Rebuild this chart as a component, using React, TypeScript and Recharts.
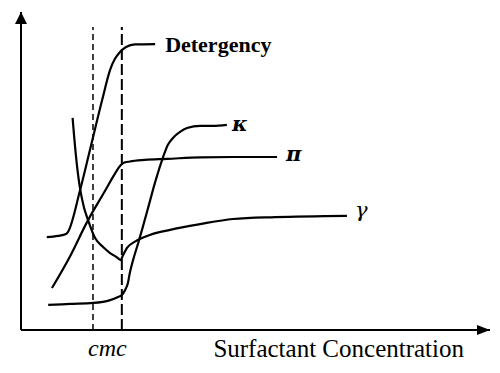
import {
  LineChart,
  Line,
  XAxis,
  YAxis,
  ReferenceLine,
  ReferenceDot,
  LabelList,
} from "recharts";

const SERIF = '"Liberation Serif", "Times New Roman", serif';
const GREEK = '"DejaVu Serif", "Liberation Serif", serif';

// concentration (arbitrary units) vs property value (arbitrary units)
const detergency: [number, number][] = [
  [5.5, 29.2], [7.9, 29.6], [9.6, 30.2], [10.0, 30.8], [12.6, 44.0],
  [14.7, 56.6], [17.3, 72.3], [19.0, 81.8], [20.0, 85.2], [21.1, 87.4],
  [22.4, 89.0], [24.3, 89.8], [28.6, 89.9],
];

const kappa: [number, number][] = [
  [5.8, 7.9], [10.5, 8.2], [15.4, 8.5], [19.0, 9.4], [20.7, 10.4],
  [21.5, 11.0], [22.2, 12.6], [22.8, 14.8], [23.2, 17.9], [23.9, 22.0],
  [25.0, 27.4], [25.8, 31.5], [27.1, 38.4], [28.6, 46.5], [30.3, 54.4],
  [31.3, 58.2], [32.4, 60.4], [33.9, 62.3], [35.4, 63.5], [38.2, 64.2],
  [40.9, 64.2], [43.9, 64.5],
];

const pi: [number, number][] = [
  [6.6, 13.2], [10.5, 23.3], [14.1, 34.0], [17.9, 43.7], [20.0, 49.1],
  [21.1, 51.6], [21.8, 52.5], [23.2, 53.0], [26.4, 53.5], [31.1, 53.8],
  [38.2, 54.3], [45.2, 54.4], [54.6, 54.4],
];

const gamma: [number, number][] = [
  [11.0, 66.7], [11.7, 55.0], [12.5, 45.3], [13.4, 38.7], [14.3, 34.6],
  [15.8, 28.9], [17.5, 26.1], [19.0, 24.2], [20.3, 23.0], [21.3, 22.0],
  [21.6, 23.0], [22.0, 24.2], [22.6, 25.8], [24.3, 27.8], [27.5, 29.9],
  [31.8, 31.5], [38.2, 33.3], [45.2, 34.9], [54.2, 35.5], [69.5, 35.9],
];

const CMC_LOW = 15.35;
const CMC_HIGH = 21.5;
const CMC_TOP = 95.3;
const X_MAX = 100;
const Y_MAX = 100;

const toPoints = (pairs: [number, number][]) => pairs.map(([x, y]) => ({ x, y }));

type LabelStyle = { fontSize: number; fontFamily: string; fontWeight?: string; fontStyle?: string };

function endLabel(count: number, text: string, dx: number, dy: number, style: LabelStyle) {
  return (props: any) => {
    if (props.index !== count - 1) return null;
    return (
      <text
        x={props.x + dx}
        y={props.y + dy}
        fontFamily={style.fontFamily}
        fontSize={style.fontSize}
        fontWeight={style.fontWeight ?? "normal"}
        fontStyle={style.fontStyle ?? "normal"}
        fill="#000"
      >
        {text}
      </text>
    );
  };
}

function CmcTick({ x, y }: any) {
  return (
    <text x={x} y={y} dy={18} textAnchor="middle" fontFamily={SERIF} fontStyle="italic" fontSize={24} fill="#000">
      cmc
    </text>
  );
}

function AxisTitle({ viewBox }: any) {
  return (
    <text x={viewBox.x + viewBox.width - 26} y={viewBox.y + 27} textAnchor="end" fontFamily={SERIF} fontSize={25} fill="#000">
      Surfactant Concentration
    </text>
  );
}

const ArrowRight = ({ cx, cy }: any) => (
  <polygon points={`${cx},${cy} ${cx - 13},${cy - 5} ${cx - 13},${cy + 5}`} fill="#000" />
);

const ArrowUp = ({ cx, cy }: any) => (
  <polygon points={`${cx},${cy} ${cx - 6},${cy + 12} ${cx + 6},${cy + 12}`} fill="#000" />
);

const series: { name: string; pts: [number, number][]; text: string; dx: number; dy: number; style: LabelStyle }[] = [
  { name: "detergency", pts: detergency, text: "Detergency", dx: 10, dy: 8, style: { fontFamily: SERIF, fontSize: 22, fontWeight: "bold" } },
  { name: "kappa", pts: kappa, text: "κ", dx: 5, dy: 6, style: { fontFamily: GREEK, fontSize: 21, fontWeight: "bold", fontStyle: "italic" } },
  { name: "pi", pts: pi, text: "π", dx: 9, dy: 4, style: { fontFamily: GREEK, fontSize: 21, fontWeight: "bold", fontStyle: "italic" } },
  { name: "gamma", pts: gamma, text: "γ", dx: 8, dy: 1, style: { fontFamily: GREEK, fontSize: 21, fontStyle: "italic" } },
];

export default function App() {
  return (
    <div style={{ width: 500, height: 373, background: "#fff" }}>
      <style>{"body{margin:0}"}</style>
      <LineChart width={500} height={373} margin={{ top: 12, right: 10, left: 21, bottom: 0 }}>
        <XAxis
          dataKey="x"
          type="number"
          domain={[0, X_MAX]}
          ticks={[(CMC_LOW + CMC_HIGH) / 2]}
          tick={<CmcTick />}
          tickLine={false}
          axisLine={false}
          height={43}
          label={<AxisTitle />}
        />
        <YAxis type="number" domain={[0, Y_MAX]} hide />
        <ReferenceLine y={0} stroke="#000" strokeWidth={2} />
        <ReferenceLine x={0} stroke="#000" strokeWidth={2} />
        <ReferenceDot x={X_MAX} y={0} r={0} ifOverflow="visible" shape={<ArrowRight />} />
        <ReferenceDot x={0} y={Y_MAX} r={0} ifOverflow="visible" shape={<ArrowUp />} />
        <ReferenceLine
          segment={[{ x: CMC_LOW, y: 0 }, { x: CMC_LOW, y: CMC_TOP }]}
          stroke="#000"
          strokeWidth={1.5}
          strokeDasharray="6 4"
        />
        <ReferenceLine
          segment={[{ x: CMC_HIGH, y: 0 }, { x: CMC_HIGH, y: CMC_TOP }]}
          stroke="#000"
          strokeWidth={2}
          strokeDasharray="11 4"
        />
        {series.map((s) => (
          <Line
            key={s.name}
            data={toPoints(s.pts)}
            dataKey="y"
            type="monotone"
            stroke="#000"
            strokeWidth={2.2}
            dot={false}
            activeDot={false}
            isAnimationActive={false}
          >
            <LabelList dataKey="y" content={endLabel(s.pts.length, s.text, s.dx, s.dy, s.style)} />
          </Line>
        ))}
      </LineChart>
    </div>
  );
}
